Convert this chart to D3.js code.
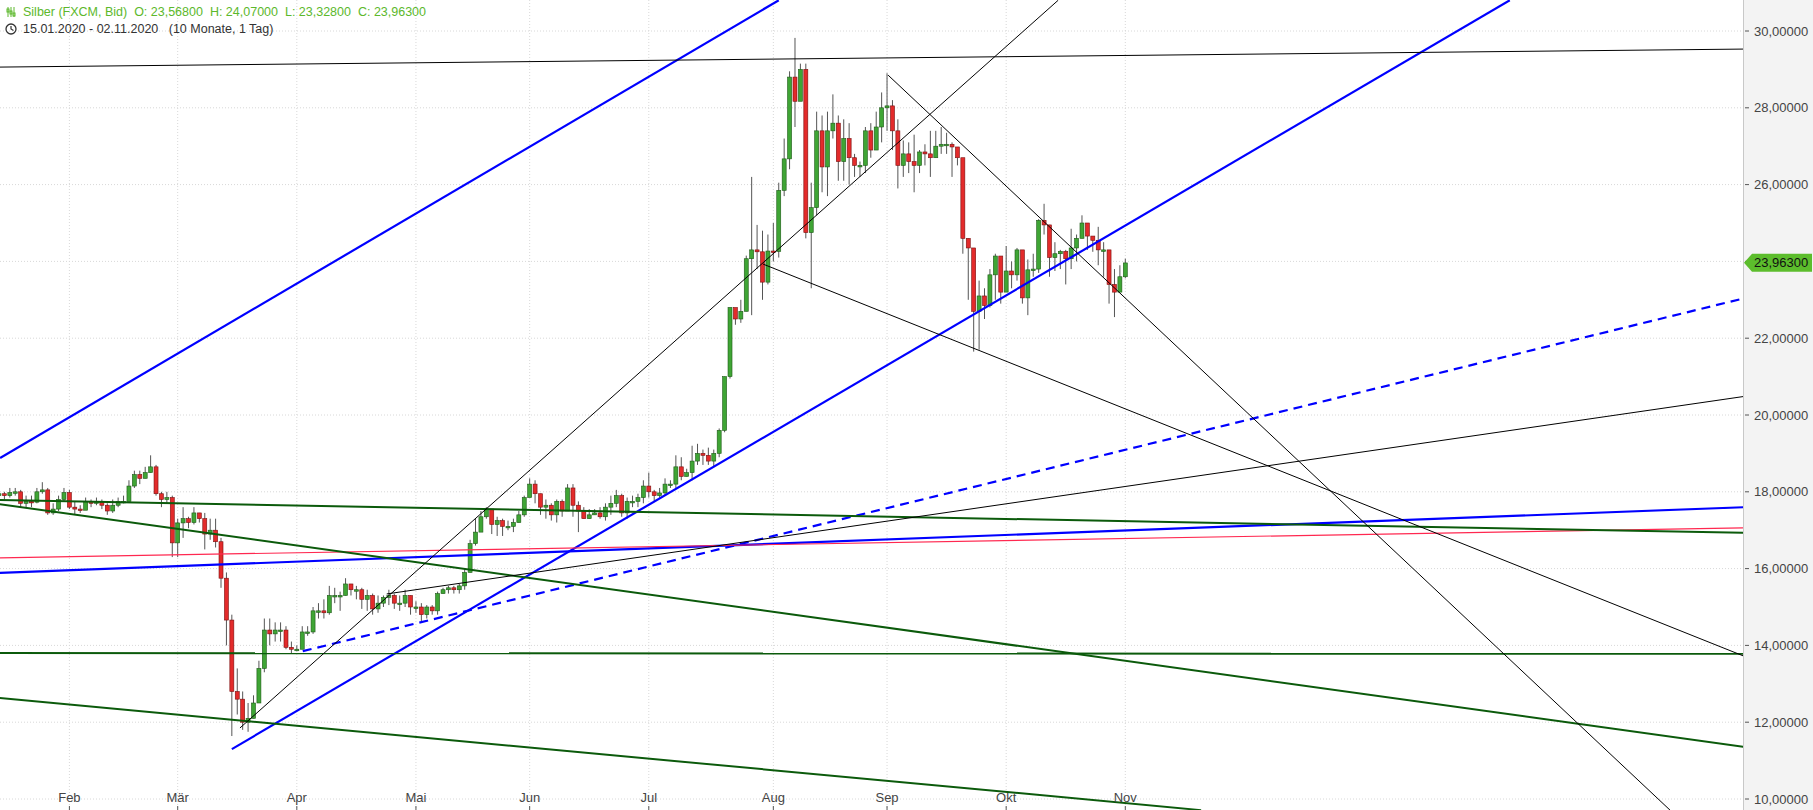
<!DOCTYPE html>
<html>
<head>
<meta charset="utf-8">
<script src="https://cdn.jsdelivr.net/npm/d3@7"></script>
<style>
  body { margin: 0; background: #fff; font-family: "Liberation Sans", Arial, sans-serif; }
  svg { display: block; }
</style>
</head>
<body>
<div id="chart"></div>
<script>
// daily candles 15.01.2020 - 02.11.2020 (trading day index 0..208), open = previous close
const closes = [
  17.95,17.9,17.98,18.0,17.7,17.75,17.73,18.0,18.05,17.45,17.55,17.8,17.98,
  17.6,17.55,17.52,17.75,17.7,17.75,17.65,17.5,17.65,17.75,17.75,18.15,18.45,18.35,18.5,18.65,17.95,17.8,17.85,16.67,
  17.19,17.3,17.2,17.45,17.3,16.9,17.0,16.7,15.75,14.66,12.8,12.6,12.0,12.1,12.5,13.4,14.4,14.3,14.4,14.4,13.95,13.9,
  13.9,14.35,14.35,14.9,14.9,14.85,15.3,15.3,15.3,15.6,15.45,15.45,15.2,15.3,14.95,15.1,15.25,15.3,15.1,15.1,15.3,15.0,
  15.0,14.8,15.0,14.9,15.35,15.45,15.5,15.45,15.55,15.9,
  16.65,16.95,17.35,17.55,17.15,17.25,17.1,17.1,17.2,17.4,17.85,18.2,17.95,17.6,17.65,17.4,17.75,17.5,18.1,17.65,17.5,17.3,17.4,17.45,17.35,17.6,17.7,17.9,17.45,17.75,17.75,17.85,18.15,18.0,17.9,17.97,18.2,18.2,18.65,18.4,18.5,18.8,19.0,18.95,18.8,19.0,19.6,21.0,22.8,22.5,22.7,24.07,
  24.3,24.25,23.46,24.27,24.26,25.85,26.67,28.8,28.17,29.0,24.75,25.4,27.4,26.46,27.4,27.6,26.6,27.2,26.7,26.5,26.5,27.4,26.9,27.5,28.0,28.05,27.4,26.5,26.8,26.6,26.5,26.85,26.8,26.7,27.0,27.05,27.05,26.98,26.7,24.6,
  24.35,22.7,23.1,22.85,23.65,24.14,23.2,23.75,23.65,24.3,23.05,23.78,23.8,25.07,24.95,24.1,24.2,24.26,24.07,24.35,24.6,25.0,24.66,24.55,24.3,24.3,23.4,23.2,23.6,23.96
];
const highs = [
  18.05,18.0,18.1,18.1,18.05,17.9,17.9,18.1,18.25,18.1,17.7,17.9,18.1,
  18.05,17.75,17.65,17.85,17.8,17.85,17.8,17.7,17.8,17.85,17.9,18.3,18.55,18.55,18.65,18.95,18.7,18.0,18.0,17.9,
  17.3,17.6,17.35,17.6,17.45,17.45,17.3,17.3,16.8,15.9,14.8,13.4,12.8,12.5,12.7,13.6,14.7,14.7,14.6,14.6,14.5,14.1,
  14.0,14.5,14.5,15.0,15.1,15.2,15.55,15.5,15.4,15.75,15.6,15.55,15.5,15.45,15.35,15.3,15.3,15.45,15.35,15.3,15.45,15.3,
  15.15,15.1,15.05,15.05,15.4,15.5,15.55,15.55,15.6,16.0,
  16.75,17.3,17.5,17.6,17.55,17.35,17.3,17.25,17.3,17.5,17.9,18.35,18.3,17.95,17.8,17.7,17.8,17.8,18.2,18.2,17.75,17.6,17.55,17.55,17.6,17.7,17.9,18.05,17.95,17.85,17.9,17.95,18.3,18.5,18.05,18.1,18.35,18.3,18.95,18.9,18.6,19.2,19.25,19.1,19.15,19.1,19.65,21.0,22.8,22.75,23.0,24.15,
  26.2,24.95,24.8,24.7,25.0,26.05,27.2,28.95,29.82,29.15,29.15,26.05,27.9,27.8,27.9,28.35,27.8,27.7,27.6,26.8,26.6,27.5,27.6,27.9,28.4,28.9,28.2,27.7,27.15,27.1,27.3,26.9,27.05,27.4,27.4,27.5,27.35,27.1,26.7,24.8,
  24.6,23.3,23.5,23.3,23.8,24.2,24.0,24.4,24.0,24.35,24.0,24.05,24.2,25.1,25.5,24.95,24.5,24.3,24.3,24.85,24.7,25.2,24.9,24.6,24.9,24.5,24.0,23.8,23.9,24.07
];
const lows = [
  17.85,17.8,17.85,17.9,17.6,17.6,17.6,17.7,17.95,17.4,17.4,17.5,17.75,
  17.55,17.4,17.45,17.6,17.6,17.65,17.55,17.4,17.45,17.6,17.7,17.9,18.1,18.2,18.35,18.5,17.9,17.6,17.7,16.3,
  16.3,16.8,17.05,17.15,17.2,16.5,16.75,16.55,15.5,14.0,11.64,12.2,11.8,11.75,12.1,12.5,13.3,14.0,14.1,14.1,13.9,13.8,
  13.85,13.9,14.25,14.3,14.7,14.7,14.8,15.1,14.9,15.3,15.3,15.2,14.95,14.9,14.8,14.85,15.0,15.05,14.95,14.9,15.0,14.8,
  14.85,14.6,14.7,14.8,14.8,15.35,15.35,15.35,15.35,15.45,
  15.9,16.6,17.1,17.3,16.9,16.85,16.85,17.0,16.95,17.2,17.35,17.95,17.7,17.4,17.3,17.25,17.2,17.35,17.5,17.35,16.95,17.3,17.3,17.4,17.3,17.25,17.4,17.6,17.35,17.3,17.6,17.6,17.7,17.85,17.75,17.85,17.9,18.1,18.1,18.3,18.4,18.3,18.7,18.7,18.7,18.65,18.9,19.55,20.95,22.35,22.4,22.7,
  22.6,23.8,23.0,23.4,24.0,24.1,25.7,26.4,27.5,28.4,24.6,23.3,25.2,25.8,25.7,27.2,26.1,26.1,26.0,26.2,26.2,26.3,26.7,26.9,27.1,27.4,26.9,25.9,26.2,26.3,25.8,26.3,26.5,26.2,26.7,26.8,26.8,26.2,26.5,24.2,
  23.0,21.65,21.7,22.5,22.8,23.0,22.9,23.4,23.3,23.5,22.9,22.6,23.6,23.7,24.7,23.6,23.75,23.8,23.4,23.8,24.0,24.6,24.3,24.25,23.9,23.6,22.9,22.55,23.3,23.56
];
const firstOpen = 17.9;

const monthLabels = ["Feb", "Mär", "Apr", "Mai", "Jun", "Jul", "Aug", "Sep", "Okt", "Nov"];
const monthStarts = [13, 33, 55, 77, 98, 120, 143, 164, 186, 208];
const priceTicks = [10, 12, 14, 16, 18, 20, 22, 24, 26, 28, 30];
const lastPrice = 23.963;

// drawn trend lines: [idx, price] start and end
const trendLines = [
  { p: [[0.2, 18.88], [144.0, 30.8]], color: "#0000ff", w: 2.2 },
  { p: [[43.0, 11.30], [279.0, 30.8]], color: "#0000ff", w: 2.2 },
  { p: [[56.1, 13.85], [322.6, 23.05]], color: "#0000ff", w: 2.2, dash: "9,6" },
  { p: [[0, 15.89], [322.6, 17.60]], color: "#0000ff", w: 2.2 },
  { p: [[0, 16.28], [322.6, 17.06]], color: "#ff2850", w: 1.2 },
  { p: [[0, 17.79], [322.6, 16.93]], color: "#0b5a0b", w: 2 },
  { p: [[0, 17.68], [322.6, 11.35]], color: "#0b5a0b", w: 2 },
  { p: [[0, 13.80], [322.6, 13.78]], color: "#0b5a0b", w: 2 },
  { p: [[0, 12.63], [222.0, 9.71]], color: "#0b5a0b", w: 2 },
  { p: [[44.5, 11.85], [195.6, 30.8]], color: "#000", w: 1 },
  { p: [[164.2, 28.85], [308.6, 9.71]], color: "#000", w: 1 },
  { p: [[141.1, 23.93], [322.6, 13.70]], color: "#000", w: 1 },
  { p: [[0, 29.06], [322.6, 29.53]], color: "#000", w: 1 },
  { p: [[71.6, 15.34], [322.6, 20.49]], color: "#000", w: 1 }
];

const W = 1813, H = 810, plotR = 1743;
const fmt = v => v.toFixed(5).replace(".", ",");

const x = d3.scaleLinear().domain([0, 208]).range([-1, 1125.3]);
const y = d3.scaleLinear().domain([10, 30]).range([799, 31]);

const svg = d3.select("#chart").append("svg").attr("width", W).attr("height", H);

svg.append("defs").append("clipPath").attr("id", "plot")
  .append("rect").attr("x", 0).attr("y", 0).attr("width", plotR).attr("height", H);

// grid
const grid = svg.append("g").attr("stroke", "#d8d8d8").attr("stroke-dasharray", "1,2");
grid.selectAll(".h").data(priceTicks).enter().append("line")
  .attr("x1", 0).attr("x2", plotR).attr("y1", d => y(d)).attr("y2", d => y(d));
grid.selectAll(".v").data(monthStarts).enter().append("line")
  .attr("x1", d => x(d)).attr("x2", d => x(d)).attr("y1", 0).attr("y2", H);

// candles
const candles = closes.map((c, i) => ({ i, o: i ? closes[i - 1] : firstOpen, c, h: highs[i], l: lows[i] }));
const cg = svg.append("g").attr("clip-path", "url(#plot)");
cg.selectAll(".wick").data(candles).enter().append("line")
  .attr("x1", d => x(d.i)).attr("x2", d => x(d.i))
  .attr("y1", d => y(d.h)).attr("y2", d => y(d.l))
  .attr("stroke", "#555").attr("stroke-width", 1);
cg.selectAll(".body").data(candles).enter().append("rect")
  .attr("x", d => x(d.i) - 2)
  .attr("y", d => y(Math.max(d.o, d.c)))
  .attr("width", 4)
  .attr("height", d => Math.max(1.5, Math.abs(y(d.o) - y(d.c))))
  .attr("fill", d => d.c >= d.o ? "#3fa535" : "#e32b2b")
  .attr("stroke", d => d.c >= d.o ? "#1d5a16" : "#7a1010")
  .attr("stroke-width", 0.6);

// trend lines
const tg = svg.append("g").attr("clip-path", "url(#plot)");
tg.selectAll("line").data(trendLines).enter().append("line")
  .attr("x1", d => x(d.p[0][0])).attr("y1", d => y(d.p[0][1]))
  .attr("x2", d => x(d.p[1][0])).attr("y2", d => y(d.p[1][1]))
  .attr("stroke", d => d.color).attr("stroke-width", d => d.w)
  .attr("stroke-dasharray", d => d.dash || null);

// right axis panel
svg.append("rect").attr("x", plotR).attr("y", 0).attr("width", W - plotR).attr("height", H).attr("fill", "#f3f3f3");
svg.append("line").attr("x1", plotR + 0.5).attr("x2", plotR + 0.5).attr("y1", 0).attr("y2", H).attr("stroke", "#c8c8c8");
const ax = svg.append("g");
ax.selectAll("line").data(priceTicks).enter().append("line")
  .attr("x1", plotR + 2).attr("x2", plotR + 6).attr("y1", d => y(d)).attr("y2", d => y(d)).attr("stroke", "#555");
ax.selectAll("text").data(priceTicks).enter().append("text")
  .attr("x", plotR + 11).attr("y", d => y(d) + 4.5)
  .attr("font-size", 13).attr("fill", "#444").text(d => fmt(d));

// last price tag
const ly = y(lastPrice);
svg.append("path")
  .attr("d", `M${plotR + 1},${ly} L${plotR + 9},${ly - 9} L${W - 1},${ly - 9} L${W - 1},${ly + 9} L${plotR + 9},${ly + 9} Z`)
  .attr("fill", "#5cbd2c");
svg.append("text").attr("x", plotR + 11).attr("y", ly + 4.5).attr("font-size", 13).attr("fill", "#111").text(fmt(lastPrice));

// month labels
const mg = svg.append("g");
mg.selectAll("text").data(monthStarts).enter().append("text")
  .attr("x", d => x(d)).attr("y", 802).attr("text-anchor", "middle")
  .attr("font-size", 13).attr("fill", "#444").text((d, i) => monthLabels[i]);
mg.selectAll("line").data(monthStarts).enter().append("line")
  .attr("x1", d => x(d)).attr("x2", d => x(d)).attr("y1", 806).attr("y2", 810).attr("stroke", "#555");

// header
const hd = svg.append("g").attr("font-size", 12.5);
hd.append("text").attr("x", 23).attr("y", 16).attr("fill", "#5cb82c")
  .attr("xml:space", "preserve")
  .text("Silber (FXCM, Bid)  O: 23,56800  H: 24,07000  L: 23,32800  C: 23,96300");
hd.append("text").attr("x", 23).attr("y", 33).attr("fill", "#333")
  .attr("xml:space", "preserve")
  .text("15.01.2020 - 02.11.2020   (10 Monate, 1 Tag)");
// small icons
const ic = hd.append("g").attr("stroke", "#5cb82c").attr("stroke-width", 1);
[8, 11, 14].forEach((px, k) => {
  ic.append("line").attr("x1", px).attr("x2", px).attr("y1", 7).attr("y2", 17);
  ic.append("rect").attr("x", px - 1).attr("y", 9 + k * 2).attr("width", 2).attr("height", 3).attr("fill", "none");
});
hd.append("circle").attr("cx", 11).attr("cy", 29).attr("r", 5).attr("fill", "none").attr("stroke", "#333").attr("stroke-width", 1.3);
hd.append("path").attr("d", "M11,26 L11,29 L13.5,30.5").attr("fill", "none").attr("stroke", "#333").attr("stroke-width", 1.2);
</script>
</body>
</html>
